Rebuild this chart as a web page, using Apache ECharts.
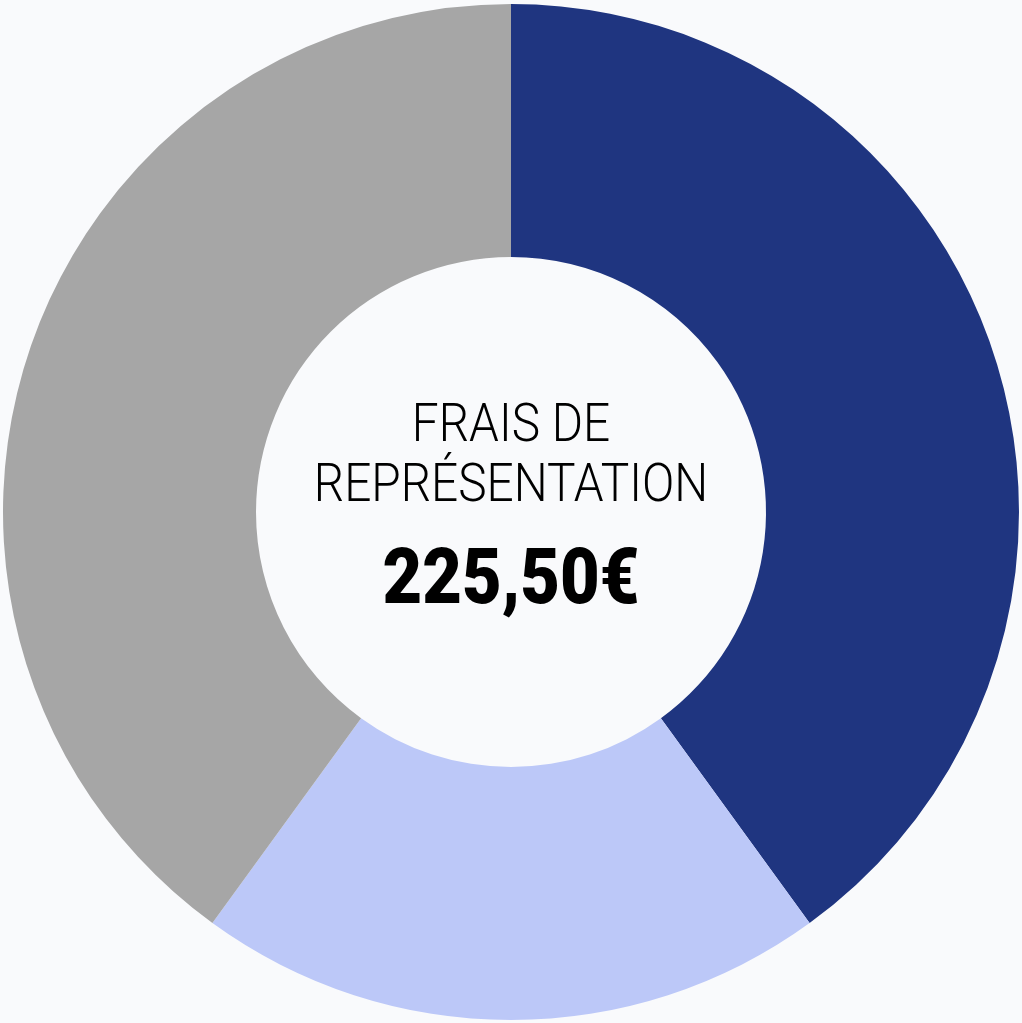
<!DOCTYPE html>
<html>
<head>
<meta charset="utf-8">
<script src="https://cdn.jsdelivr.net/npm/echarts@6/dist/echarts.min.js"></script>
<style>
  html, body { margin: 0; padding: 0; background: #f9fafc; }
  #main { width: 1022px; height: 1023px; }
</style>
</head>
<body>
<div id="main"></div>
<script>
// données du donut
const categories = ['Bleu foncé', 'Bleu clair', 'Gris']
const values = [40, 20, 40]
const colors = ['#1f3580', '#bcc8f8', '#a6a6a6']
const titleLines = ['FRAIS DE', 'REPRÉSENTATION']
const totalLabel = '225,50€'

const myChart = echarts.init(document.getElementById('main'))

// texte central, une ligne par élément
function centerText(text, y, size, weight, sx) {
  return {
    type: 'text',
    x: 511,
    y: y,
    scaleX: sx,
    scaleY: 1,
    silent: true,
    style: {
      x: 0,
      y: 0,
      text: text,
      fontFamily: 'Roboto, sans-serif',
      fontWeight: weight,
      fontSize: size,
      fill: '#000',
      align: 'center',
      verticalAlign: 'middle'
    }
  }
}

const option = {
  backgroundColor: '#f9fafc',
  animation: false,
  graphic: [
    centerText(titleLines[0], 427, 54, 300, 0.885),
    centerText(titleLines[1], 487, 54, 300, 0.885),
    centerText(totalLabel, 584, 77, 900, 0.89)
  ],
  series: [
    {
      type: 'pie',
      center: [511, 512],
      radius: [255, 508],
      startAngle: 90,
      clockwise: true,
      label: { show: false },
      labelLine: { show: false },
      silent: true,
      data: categories.map((name, i) => ({
        name,
        value: values[i],
        itemStyle: { color: colors[i] }
      }))
    }
  ]
}

myChart.setOption(option)
window.onresize = function () {
  myChart.resize()
}
</script>
</body>
</html>
